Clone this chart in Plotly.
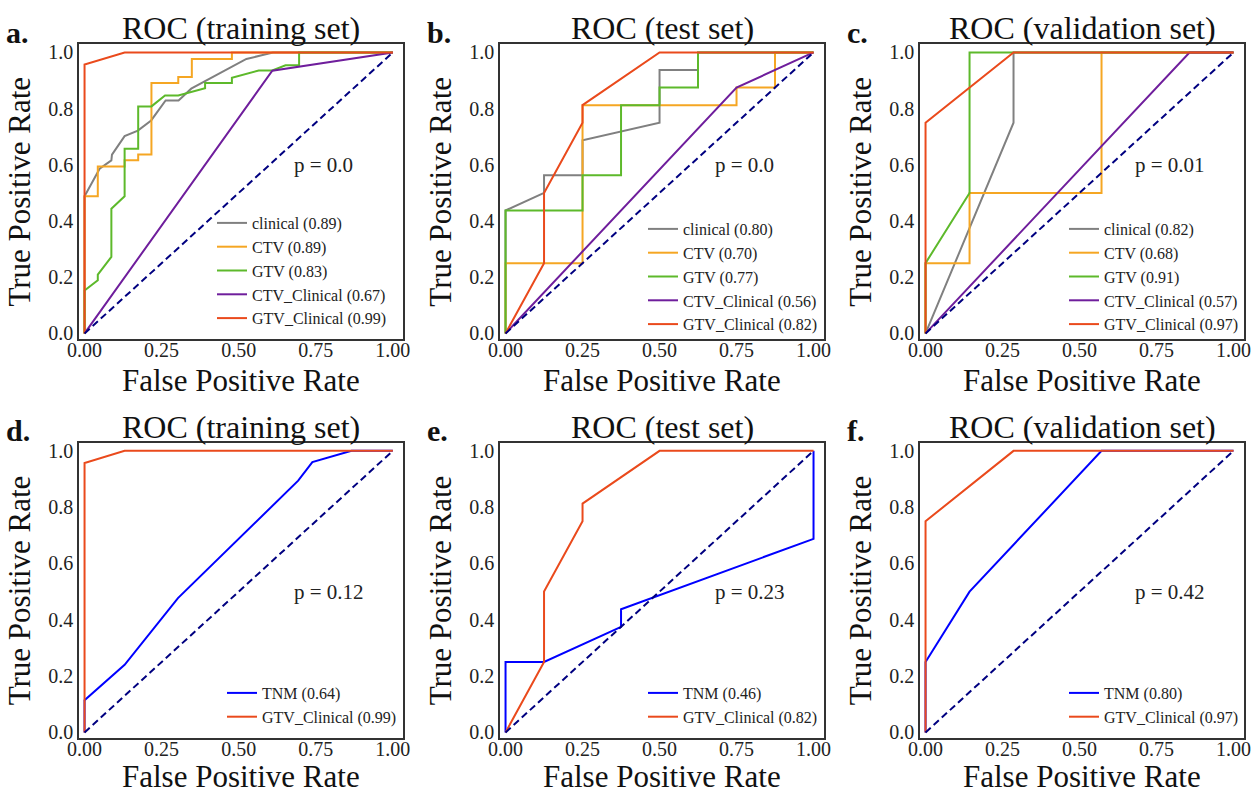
"""ROC curves for the radiomics / clinical models on training, test and validation sets."""

import plotly.graph_objects as go
from plotly.subplots import make_subplots

FONT = "Liberation Serif"
WIDTH, HEIGHT = 1255, 793

COLORS = {
    "clinical": "#808080",
    "CTV": "#F5A623",
    "GTV": "#5DB92B",
    "CTV_Clinical": "#6F1E9C",
    "GTV_Clinical": "#EA4A1C",
    "TNM": "#0000FF",
}
DIAG_COLOR = "#000080"

# ---- a. training set ----
TRAIN_CLINICAL_FPR = [0, 0, 0.049, 0.087, 0.089, 0.13, 0.173, 0.216, 0.263, 0.305,
                      0.346, 0.395, 0.438, 0.481, 0.525, 0.568, 0.611, 1.0]
TRAIN_CLINICAL_TPR = [0, 0.488, 0.586, 0.616, 0.636, 0.702, 0.722, 0.758, 0.829, 0.829,
                      0.871, 0.9, 0.924, 0.952, 0.977, 0.988, 1.0, 1.0]
TRAIN_CTV_FPR = [0, 0, 0.043, 0.043, 0.13, 0.13, 0.174, 0.174, 0.217, 0.217,
                 0.304, 0.304, 0.348, 0.348, 0.478, 0.478, 1.0]
TRAIN_CTV_TPR = [0, 0.488, 0.488, 0.594, 0.594, 0.616, 0.616, 0.637, 0.637, 0.891,
                 0.891, 0.913, 0.913, 0.977, 0.977, 1.0, 1.0]
TRAIN_GTV_FPR = [0, 0, 0.043, 0.043, 0.087, 0.087, 0.13, 0.13, 0.174, 0.174, 0.217,
                 0.261, 0.304, 0.391, 0.391, 0.478, 0.478, 0.565, 0.609, 0.652,
                 0.696, 0.696, 1.0]
TRAIN_GTV_TPR = [0, 0.153, 0.189, 0.209, 0.272, 0.444, 0.488, 0.657, 0.657, 0.808, 0.808,
                 0.847, 0.847, 0.873, 0.891, 0.891, 0.91, 0.936, 0.936, 0.954,
                 0.954, 1.0, 1.0]
TRAIN_CTV_CLIN_FPR = [0, 0.609, 1.0]
TRAIN_CTV_CLIN_TPR = [0, 0.935, 1.0]
TRAIN_GTV_CLIN_FPR = [0, 0, 0.13, 1.0]
TRAIN_GTV_CLIN_TPR = [0, 0.957, 1.0, 1.0]

# ---- b. test set ----
TEST_CLINICAL_FPR = [0, 0, 0.125, 0.125, 0.25, 0.25, 0.5, 0.5, 0.625, 0.625, 1.0]
TEST_CLINICAL_TPR = [0, 0.4375, 0.5, 0.5625, 0.5625, 0.6875, 0.75, 0.9375, 0.9375, 1.0, 1.0]
TEST_CTV_FPR = [0, 0, 0.25, 0.25, 0.75, 0.75, 0.875, 0.875, 1.0]
TEST_CTV_TPR = [0, 0.25, 0.25, 0.8125, 0.8125, 0.875, 0.875, 1.0, 1.0]
TEST_GTV_FPR = [0, 0, 0.25, 0.25, 0.375, 0.375, 0.5, 0.5, 0.625, 0.625, 1.0]
TEST_GTV_TPR = [0, 0.4375, 0.4375, 0.5625, 0.5625, 0.8125, 0.8125, 0.875, 0.875, 1.0, 1.0]
TEST_CTV_CLIN_FPR = [0, 0.75, 1.0]
TEST_CTV_CLIN_TPR = [0, 0.875, 1.0]
TEST_GTV_CLIN_FPR = [0, 0.125, 0.125, 0.25, 0.25, 0.5, 1.0]
TEST_GTV_CLIN_TPR = [0, 0.25, 0.5, 0.75, 0.8125, 1.0, 1.0]

# ---- c. validation set ----
VAL_CLINICAL_FPR = [0, 0.2857, 0.2857, 1.0]
VAL_CLINICAL_TPR = [0, 0.75, 1.0, 1.0]
VAL_CTV_FPR = [0, 0, 0.1429, 0.1429, 0.5714, 0.5714, 1.0]
VAL_CTV_TPR = [0, 0.25, 0.25, 0.5, 0.5, 1.0, 1.0]
VAL_GTV_FPR = [0, 0, 0.1429, 0.1429, 1.0]
VAL_GTV_TPR = [0, 0.25, 0.5, 1.0, 1.0]
VAL_CTV_CLIN_FPR = [0, 0.857, 1.0]
VAL_CTV_CLIN_TPR = [0, 1.0, 1.0]
VAL_GTV_CLIN_FPR = [0, 0, 0.2857, 1.0]
VAL_GTV_CLIN_TPR = [0, 0.75, 1.0, 1.0]

# ---- d-f. TNM vs GTV_Clinical ----
TRAIN_TNM_FPR = [0, 0, 0.13, 0.303, 0.693, 0.739, 0.866, 1.0]
TRAIN_TNM_TPR = [0, 0.114, 0.24, 0.477, 0.894, 0.96, 1.0, 1.0]
TEST_TNM_FPR = [0, 0, 0.125, 0.375, 0.375, 1.0, 1.0]
TEST_TNM_TPR = [0, 0.25, 0.25, 0.375, 0.4375, 0.6875, 1.0]
VAL_TNM_FPR = [0, 0, 0.1429, 0.5714, 1.0]
VAL_TNM_TPR = [0, 0.25, 0.5, 1.0, 1.0]

MODELS_TOP = ["clinical", "CTV", "GTV", "CTV_Clinical", "GTV_Clinical"]
MODELS_BOTTOM = ["TNM", "GTV_Clinical"]
AUC_TRAIN = [0.89, 0.89, 0.83, 0.67, 0.99]
AUC_TEST = [0.80, 0.70, 0.77, 0.56, 0.82]
AUC_VAL = [0.82, 0.68, 0.91, 0.57, 0.97]
AUC_TNM = [[0.64, 0.99], [0.46, 0.82], [0.80, 0.97]]
P_VALUES = ["0.0", "0.0", "0.01", "0.12", "0.23", "0.42"]
TITLES = ["ROC (training set)", "ROC (test set)", "ROC (validation set)"] * 2
LETTERS = ["a.", "b.", "c.", "d.", "e.", "f."]
X_TICKS = [0, 0.25, 0.5, 0.75, 1.0]
Y_TICKS = [0, 0.2, 0.4, 0.6, 0.8, 1.0]
DIAG = [0, 1]

# frame of each panel in pixels: (left, top, right, bottom)
FRAMES = [
    (79, 44.3, 403.3, 339.3), (500, 44.3, 824, 339.3), (920, 44.3, 1244, 339.3),
    (79, 442.7, 403.3, 738.3), (500, 442.7, 824, 738.3), (920, 442.7, 1244, 738.3),
]
# legend anchor (left, top) in pixels
LEGEND_POS = [(212, 206), (643, 212), (1064, 212), (222, 676), (643, 676), (1064, 676)]
# gap between frame bottom and x title centre, per row
XTITLE_GAP = [41, 38]

PANEL_CURVES = [
    [(TRAIN_CLINICAL_FPR, TRAIN_CLINICAL_TPR), (TRAIN_CTV_FPR, TRAIN_CTV_TPR),
     (TRAIN_GTV_FPR, TRAIN_GTV_TPR), (TRAIN_CTV_CLIN_FPR, TRAIN_CTV_CLIN_TPR),
     (TRAIN_GTV_CLIN_FPR, TRAIN_GTV_CLIN_TPR)],
    [(TEST_CLINICAL_FPR, TEST_CLINICAL_TPR), (TEST_CTV_FPR, TEST_CTV_TPR),
     (TEST_GTV_FPR, TEST_GTV_TPR), (TEST_CTV_CLIN_FPR, TEST_CTV_CLIN_TPR),
     (TEST_GTV_CLIN_FPR, TEST_GTV_CLIN_TPR)],
    [(VAL_CLINICAL_FPR, VAL_CLINICAL_TPR), (VAL_CTV_FPR, VAL_CTV_TPR),
     (VAL_GTV_FPR, VAL_GTV_TPR), (VAL_CTV_CLIN_FPR, VAL_CTV_CLIN_TPR),
     (VAL_GTV_CLIN_FPR, VAL_GTV_CLIN_TPR)],
    [(TRAIN_TNM_FPR, TRAIN_TNM_TPR), (TRAIN_GTV_CLIN_FPR, TRAIN_GTV_CLIN_TPR)],
    [(TEST_TNM_FPR, TEST_TNM_TPR), (TEST_GTV_CLIN_FPR, TEST_GTV_CLIN_TPR)],
    [(VAL_TNM_FPR, VAL_TNM_TPR), (VAL_GTV_CLIN_FPR, VAL_GTV_CLIN_TPR)],
]
PANEL_AUCS = [AUC_TRAIN, AUC_TEST, AUC_VAL] + AUC_TNM


def px_x(v):
    return v / WIDTH


def px_y(v):
    return 1 - v / HEIGHT


def font(size, color="#111"):
    return dict(family=FONT, size=size, color=color)


fig = make_subplots(rows=2, cols=3)

for i, curves in enumerate(PANEL_CURVES):
    row, col = i // 3 + 1, i % 3 + 1
    legend_id = "legend" if i == 0 else f"legend{i + 1}"
    models = MODELS_TOP if i < 3 else MODELS_BOTTOM
    for (fpr, tpr), model, auc in zip(curves, models, PANEL_AUCS[i]):
        fig.add_trace(go.Scatter(
            x=fpr, y=tpr, mode="lines",
            name=f"{model} ({auc:.2f})",
            line=dict(color=COLORS[model], width=2),
            legend=legend_id,
        ), row=row, col=col)
    # chance line
    fig.add_trace(go.Scatter(
        x=DIAG, y=DIAG, mode="lines", showlegend=False,
        line=dict(color=DIAG_COLOR, width=2, dash="7px,4px"),
    ), row=row, col=col)

    left, top, right, bottom = FRAMES[i]
    sfx = "" if i == 0 else str(i + 1)
    fig.layout[f"xaxis{sfx}"].update(
        domain=[px_x(left), px_x(right)], range=[-0.018, 1.034],
        tickvals=X_TICKS, tickformat=".2f", ticklabelstandoff=-8,
    )
    fig.layout[f"yaxis{sfx}"].update(
        domain=[px_y(bottom), px_y(top)], range=[-0.021, 1.029],
        tickvals=Y_TICKS, tickformat=".1f", ticklabelstandoff=0,
        title=dict(text="True Positive Rate", font=font(31), standoff=8),
    )

    lx, ly = LEGEND_POS[i]
    fig.layout[legend_id] = dict(
        x=px_x(lx), y=px_y(ly), xanchor="left", yanchor="top",
        font=font(16, "#222"), bgcolor="rgba(0,0,0,0)",
    )

    # x title kept as annotation so the bottom row is not pushed up
    fig.add_annotation(
        text="False Positive Rate", xref="paper", yref="paper",
        x=px_x((left + right) / 2), y=px_y(bottom + XTITLE_GAP[row - 1]),
        xanchor="center", yanchor="middle",
        showarrow=False, font=font(31),
    )
    # title, panel letter and p value
    fig.add_annotation(
        text=TITLES[i], xref="paper", yref="paper",
        x=px_x((left + right) / 2), y=px_y(top), xanchor="center", yanchor="bottom",
        yshift=-4, showarrow=False, font=font(32),
    )
    fig.add_annotation(
        text=f"<b>{LETTERS[i]}</b>", xref="paper", yref="paper",
        x=px_x(left - 75), y=px_y(top - 12), xanchor="left", yanchor="middle",
        showarrow=False, font=font(30),
    )
    fig.add_annotation(
        text=f"p = {P_VALUES[i]}", xref=f"x{sfx}", yref=f"y{sfx}",
        x=0.672, y=0.6 if i < 3 else 0.5, xanchor="left", yanchor="middle",
        showarrow=False, font=font(21, "#222"),
    )

axis_style = dict(
    showgrid=False, zeroline=False, showline=True, mirror=True, automargin=False,
    linecolor="#333", linewidth=1.6, ticks="",
    tickfont=font(20, "#222"),
)
fig.update_xaxes(**axis_style)
fig.update_yaxes(**axis_style)

fig.update_layout(
    width=WIDTH, height=HEIGHT,
    margin=dict(l=0, r=0, t=0, b=0),
    paper_bgcolor="white", plot_bgcolor="white",
    font=font(14),
    hovermode=False,
)

# the page body keeps its default 8px margin unless we drop it
fig.write_html(
    "out.html",
    config={"displayModeBar": False},
    post_script="document.body.style.margin = '0';",
)
